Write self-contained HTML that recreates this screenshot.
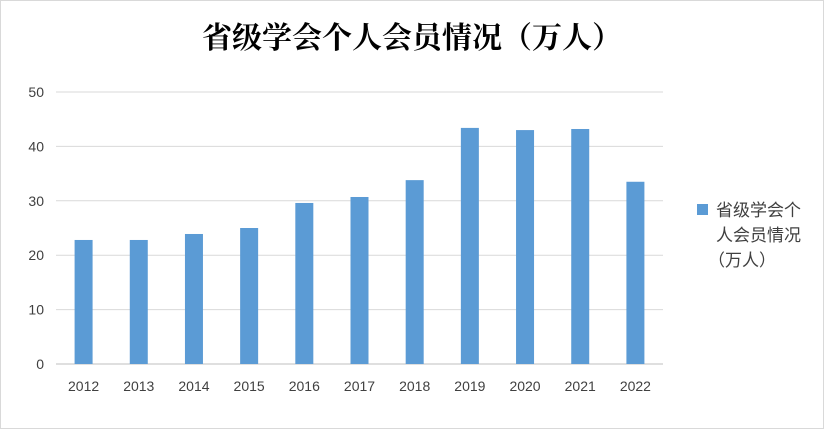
<!DOCTYPE html>
<html><head><meta charset="utf-8"><style>
body{margin:0;background:#fff}
#c{position:relative;width:822px;height:427px;border:1px solid #d9d9d9;background:#fff;font-family:"Liberation Sans","Noto Sans CJK SC",sans-serif}
</style></head><body>
<div id="c">
<svg id="s" width="822" height="427">
<text x="411" y="47" text-anchor="middle" font-size="30" font-weight="bold" font-family="'Noto Serif CJK SC','Liberation Serif',serif" fill="#000">省级学会个人会员情况（万人）</text>
<g id="grid"></g><g id="bars"></g><g id="xl"></g><g id="yl"></g>
<rect x="696" y="203" width="11" height="11" fill="#5b9bd5"/>
<text font-size="17" fill="#404040"><tspan x="715" y="215">省级学会个</tspan><tspan x="715" y="240">人会员情况</tspan><tspan x="707" y="265">（万人）</tspan></text>
</svg></div>
<script>
const categories=["2012","2013","2014","2015","2016","2017","2018","2019","2020","2021","2022"];
const values=[22.8,22.8,23.9,25.0,29.6,30.7,33.8,43.4,43.0,43.2,33.5];
const yTicks=[0,10,20,30,40,50];
const NS="http://www.w3.org/2000/svg";
const x0=55,x1=662,y0=363,yTop=91,ymax=50;
const step=(x1-x0)/categories.length;
const y=v=>y0-(v/ymax)*(y0-yTop);
const xc=i=>x0+step*(i+0.5);
function mk(t,a,p){const e=document.createElementNS(NS,t);for(const k in a)e.setAttribute(k,a[k]);p.appendChild(e);return e;}
const g=document.getElementById('grid'),b=document.getElementById('bars'),xl=document.getElementById('xl'),yl=document.getElementById('yl');
yTicks.forEach(t=>{
 const l=mk('line',{x1:x0,x2:x1,y1:y(t),y2:y(t),stroke:t===0?'#bfbfbf':'#d9d9d9','stroke-width':1},g);
 
 
 const tx=mk('text',{x:43,y:y(t)+5,'text-anchor':'end','font-size':14,fill:'#404040'},yl);
 tx.textContent=t;
 
 
});
categories.forEach((c,i)=>{
 const r=mk('rect',{x:xc(i)-9,y:y(values[i]),width:18,height:y0-y(values[i]),fill:'#5b9bd5'},b);
 
 
 const tx=mk('text',{x:xc(i),y:390,'text-anchor':'middle','font-size':14,fill:'#404040'},xl);
 tx.textContent=c;
 
 
});
</script>
</body></html>
